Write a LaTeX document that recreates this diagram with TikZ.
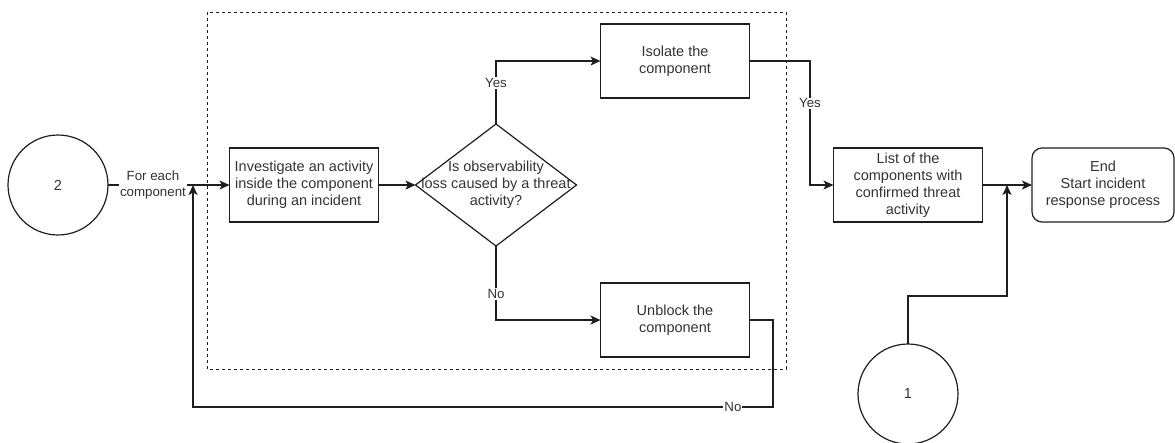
\documentclass[tikz,border=0pt]{standalone}
\usepackage{fontspec}
\setmainfont{Liberation Sans}
\usetikzlibrary{shapes.geometric,arrows.meta}
\definecolor{txtgray}{RGB}{51,51,51}
\definecolor{linegray}{RGB}{30,30,30}
\begin{document}
\begin{tikzpicture}[x=1pt,y=-1pt,
  line width=1.2pt, draw=linegray,
  every node/.style={font=\fontsize{14.5}{17}\selectfont, text=txtgray, outer sep=0pt},
  box/.style={draw=linegray, minimum width=149pt, minimum height=74pt, align=center, inner sep=0pt},
  endbox/.style={box, rounded corners=10pt, minimum width=142pt},
  circ/.style={draw=linegray, circle, minimum size=100pt, inner sep=0pt},
  lbl/.style={fill=white, inner sep=1pt, align=center, font=\fontsize{13.3}{15.5}\selectfont},
  arr/.style={draw=linegray, -{Stealth[length=10pt,width=9pt,inset=2.5pt]}},
  grp/.style={draw=linegray, line width=1pt, dash pattern=on 3pt off 3pt}
]
\useasboundingbox (0,0) rectangle (1175,442);

% group frame
\draw[grp] (207,12) rectangle (786,369);

% nodes
\node[circ] (c2) at (58,185) {2};
\node[box] (inv) at (304,185) {Investigate an activity\\inside the component\\during an incident};
\node[diamond, draw=linegray, minimum width=161pt, minimum height=122pt, inner sep=0pt] (q) at (496,185) {};
\node[align=center] (qt) at (496,185) {Is observability\\loss caused by a threat\\activity?};
\node[box] (iso) at (675,61) {Isolate the\\component};
\node[box] (unb) at (675,320) {Unblock the\\component};
\node[box] (list) at (908,185) {List of the\\components with\\confirmed threat\\activity};
\node[endbox] (end) at (1103,185) {End\\Start incident\\response process};
\node[circ] (c1) at (908,394) {1};

% helper coordinates
\coordinate (j1) at (810,61);
\coordinate (j2) at (1007,185);
\coordinate (k2) at (1007,296);
\coordinate (u2) at (773,407);
\coordinate (u3) at (193,407);
\coordinate (j3) at (193,185);

% connectors
\draw[arr] (c2.east) -- node[lbl, pos=0.37] {For each\\component} (inv.west);
\draw[arr] (inv.east) -- (q.west);
\draw[arr] (q.north) |- node[lbl, pos=0.325] {Yes} (iso.west);
\draw[arr] (q.south) |- node[lbl, pos=0.325] {No} (unb.west);
\draw[arr] (iso.east) -- (j1) |- node[lbl, pos=0.17] {Yes} (list.west);
\draw[arr] (list.east) -- (end.west);
\draw[arr] (c1.north) |- (k2) -- (j2);
\draw[arr] (unb.east) -| (u2) -- node[lbl, pos=0.069] {No} (u3) -- (j3);
\end{tikzpicture}
\end{document}
